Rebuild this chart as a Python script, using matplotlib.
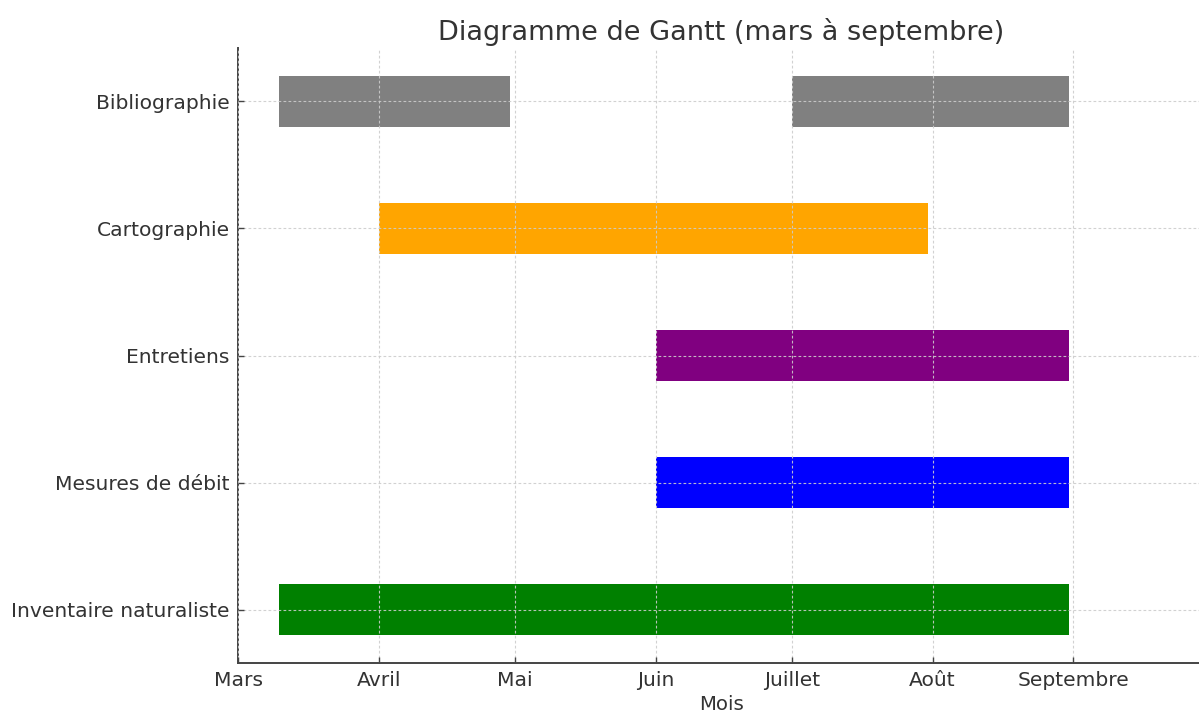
import matplotlib
matplotlib.use("Agg")
import matplotlib.pyplot as plt
import matplotlib.dates as mdates
import datetime as dt

tasks = ["Inventaire naturaliste", "Mesures de débit", "Entretiens", "Cartographie", "Bibliographie"]
colors = ["green", "blue", "purple", "orange", "gray"]
# (task index, start, end)
seg_task = [0, 1, 2, 3, 4, 4]
seg_start = ["2024-03-10", "2024-06-01", "2024-06-01", "2024-04-01", "2024-03-10", "2024-07-01"]
seg_end = ["2024-08-31", "2024-08-31", "2024-08-31", "2024-07-31", "2024-04-30", "2024-08-31"]
month_ticks = ["2024-03-01", "2024-04-01", "2024-05-01", "2024-06-01", "2024-07-01", "2024-08-01", "2024-09-01"]
month_labels = ["Mars", "Avril", "Mai", "Juin", "Juillet", "Août", "Septembre"]

def d(s):
    return mdates.date2num(dt.datetime.strptime(s, "%Y-%m-%d"))

W, H = 1199, 714
fig = plt.figure(figsize=(W / 100, H / 100), dpi=100)
ax = fig.add_axes([238 / W, (H - 663) / H, (1205 - 238) / W, (663 - 48) / H])

txt = "#333333"
for t, s, e in zip(seg_task, seg_start, seg_end):
    ax.barh(t, d(e) - d(s), left=d(s), height=0.4, color=colors[t])

ax.set_yticks(range(len(tasks)))
ax.set_yticklabels(tasks)
ax.set_ylim(-0.42, 4.42)
ax.set_xlim(d("2024-03-01"), d("2024-09-30"))
ax.set_xticks([d(m) for m in month_ticks])
ax.set_xticklabels(month_labels)

ax.grid(True, color="#cccccc", linestyle=(0, (2.5, 2)), linewidth=0.8, alpha=0.9)
ax.set_axisbelow(False)
for sp in ["top", "right"]:
    ax.spines[sp].set_visible(False)
for sp in ["left", "bottom"]:
    ax.spines[sp].set_color("#444444")
    ax.spines[sp].set_linewidth(1.4)
ax.tick_params(axis="both", direction="in", length=4, width=1, colors="#444444",
               labelcolor=txt, labelsize=14.6)
ax.tick_params(axis="x", pad=6)
ax.tick_params(axis="y", pad=6)

ax.set_title("Diagramme de Gantt (mars à septembre)", fontsize=19.5, color=txt, pad=6)
ax.set_xlabel("Mois", fontsize=14.2, color=txt, labelpad=3)

fig.savefig("out.png", dpi=100)
